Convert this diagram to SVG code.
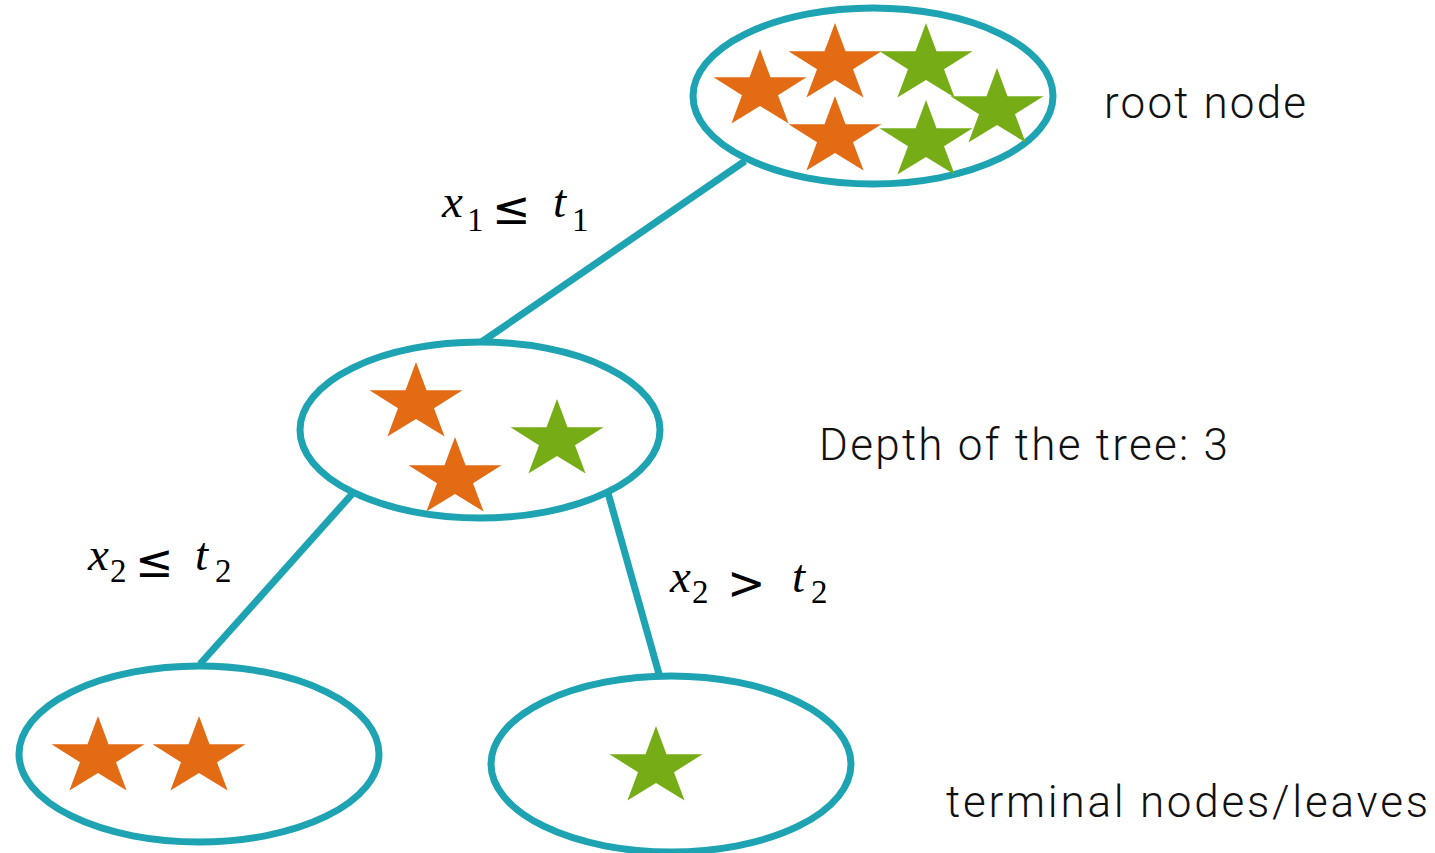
<svg xmlns="http://www.w3.org/2000/svg" xmlns:xlink="http://www.w3.org/1999/xlink" width="1435" height="853" viewBox="0 0 1435 853">
<style>
.edge{stroke:#1da3b1;stroke-width:7;fill:none;stroke-linecap:butt}
.node{stroke:#1da3b1;stroke-width:7;fill:#ffffff}
.or{fill:#e36b14}
.gr{fill:#76ad17}
.lbl{font-family:Roboto,"Liberation Sans",sans-serif;font-weight:300;font-size:44px;fill:#111111}
.mi{font-family:"Liberation Serif","DejaVu Serif",serif;font-style:italic;font-size:47px;fill:#000000}
.sub{font-family:"Liberation Serif","DejaVu Serif",serif;font-size:33px;fill:#000000}
.op{font-family:"DejaVu Sans","Liberation Sans",sans-serif;font-size:46px;fill:#000000}
</style>
<defs>
<path id="star" d="M0,-41 L10.5,-12.7 L46.5,-12.7 L18,5.2 L28.6,33.5 L0,16 L-28.6,33.5 L-18,5.2 L-46.5,-12.7 L-10.5,-12.7 Z"/>
</defs>
<g id="connectors">
<line class="edge" x1="745" y1="161" x2="480" y2="343"/>
<line class="edge" x1="353" y1="493" x2="200" y2="664"/>
<line class="edge" x1="608" y1="493" x2="659" y2="674"/>
</g>
<g id="root">
<ellipse class="node" cx="873" cy="96" rx="180" ry="88"/>
<use xlink:href="#star" href="#star" class="or" x="760" y="90"/>
<use xlink:href="#star" href="#star" class="or" x="835" y="64"/>
<use xlink:href="#star" href="#star" class="gr" x="926" y="64"/>
<use xlink:href="#star" href="#star" class="gr" x="997" y="109"/>
<use xlink:href="#star" href="#star" class="or" x="835" y="137"/>
<use xlink:href="#star" href="#star" class="gr" x="926" y="141"/>
</g>
<g id="middle">
<ellipse class="node" cx="480" cy="430" rx="180" ry="88"/>
<use xlink:href="#star" href="#star" class="or" x="416" y="403"/>
<use xlink:href="#star" href="#star" class="or" x="455" y="478"/>
<use xlink:href="#star" href="#star" class="gr" x="557" y="440"/>
</g>
<g id="leaf-left">
<ellipse class="node" cx="199" cy="754" rx="180" ry="88"/>
<use xlink:href="#star" href="#star" class="or" x="98" y="757"/>
<use xlink:href="#star" href="#star" class="or" x="199" y="757"/>
</g>
<g id="leaf-right">
<ellipse class="node" cx="671" cy="764" rx="180" ry="88"/>
<use xlink:href="#star" href="#star" class="gr" x="656" y="767"/>
</g>
<g id="labels">
<text class="lbl" x="1104" y="118" textLength="202">root node</text>
<text class="lbl" x="819" y="460" textLength="409">Depth of the tree: 3</text>
<text class="lbl" x="946" y="817" textLength="482">terminal nodes/leaves</text>
</g>
<g id="label-x1">
<text class="mi" x="442" y="217">x</text>
<text class="sub" x="467" y="231">1</text>
<text class="op" x="492" y="224">≤</text>
<text class="mi" x="553" y="217">t</text>
<text class="sub" x="572" y="231">1</text>
</g>
<g id="label-x2-le">
<text class="mi" x="88" y="570">x</text>
<text class="sub" x="110" y="582">2</text>
<text class="op" x="135" y="577">≤</text>
<text class="mi" x="195" y="570">t</text>
<text class="sub" x="215" y="582">2</text>
</g>
<g id="label-x2-gt">
<text class="mi" x="670" y="592">x</text>
<text class="sub" x="692" y="603">2</text>
<text class="op" x="727" y="599">&gt;</text>
<text class="mi" x="792" y="592">t</text>
<text class="sub" x="811" y="603">2</text>
</g>
</svg>
